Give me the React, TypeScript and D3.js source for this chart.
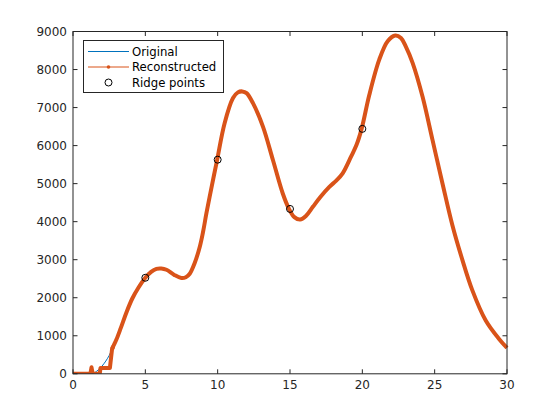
import React from "react";
import * as d3 from "d3";

const xTicks = [0, 5, 10, 15, 20, 25, 30];
const yTicks = [0, 1000, 2000, 3000, 4000, 5000, 6000, 7000, 8000, 9000];

const reconX = [0, 1.2, 1.28, 1.36, 1.85, 1.9, 2.5, 2.55, 2.7, 2.78, 3.0, 3.3, 3.7, 4.1, 4.5, 5.0, 5.4, 5.77, 6.1, 6.46, 7.0, 7.49, 7.8, 8.07, 8.4, 8.76, 9.0, 9.22, 9.6, 9.96, 10.48, 11.06, 11.4, 11.7, 12.0, 12.44, 13.13, 13.82, 14.5, 14.92, 15.3, 15.7, 16.1, 16.58, 17.1, 17.72, 18.2, 18.64, 19.22, 19.6, 19.95, 20.48, 21.17, 21.75, 22.28, 22.67, 23.0, 23.48, 24.16, 24.85, 25.54, 26.23, 26.92, 27.6, 28.53, 29.45, 30];
const reconY = [0, 0, 170, 0, 0, 150, 150, 150, 650, 720, 900, 1200, 1620, 1980, 2250, 2525, 2680, 2760, 2770, 2735, 2600, 2520, 2540, 2630, 2900, 3335, 3750, 4215, 4950, 5620, 6590, 7250, 7400, 7425, 7380, 7115, 6500, 5620, 4740, 4345, 4120, 4055, 4150, 4390, 4650, 4915, 5080, 5270, 5710, 6020, 6440, 7330, 8260, 8745, 8895, 8830, 8610, 8170, 7290, 6150, 5005, 3900, 2990, 2200, 1400, 915, 680];

const origStartX = [0, 1.3, 1.5, 2.0, 2.5];
const origStartY = [0, 0, 30, 200, 480];

const ridgeX = [5, 10, 15, 20];
const ridgeY = [2525, 5630, 4335, 6440];

const legendLabels = ["Original", "Reconstructed", "Ridge points"];

const W = 560, H = 420;
const L = 73, R = 507, T = 31.5, B = 373.8;
const AX = "#262626";
const BLUE = "#0072BD";
const ORANGE = "#D95319";
const FONT = "DejaVu Sans, sans-serif";

export default function App() {
  const x = d3.scaleLinear().domain([0, 30]).range([L, R]);
  const y = d3.scaleLinear().domain([0, 9000]).range([B, T]);

  const recon: [number, number][] = reconX.map((v, i) => [v, reconY[i]]);
  const reconLow = recon.filter((p) => p[0] <= 2.78);
  const reconHigh = recon.filter((p) => p[0] >= 2.7);
  const orig: [number, number][] = [
    ...origStartX.map((v, i) => [v, origStartY[i]] as [number, number]),
    ...recon.filter((p) => p[0] >= 2.78),
  ];

  const smooth = d3
    .line<[number, number]>()
    .x((d) => x(d[0]))
    .y((d) => y(d[1]))
    .curve(d3.curveCatmullRom.alpha(0.5));
  const linear = d3
    .line<[number, number]>()
    .x((d) => x(d[0]))
    .y((d) => y(d[1]));

  const tickLen = 4.5;

  return (
    <svg
      width={W}
      height={H}
      style={{ position: "absolute", left: 0, top: 0, background: "#fff" }}
      fontFamily={FONT}
    >
      <rect x={0} y={0} width={W} height={H} fill="#fff" />
      <defs>
        <clipPath id="clip">
          <rect x={L} y={T - 3} width={R - L + 3} height={B - T + 3} />
        </clipPath>
      </defs>
      <g clipPath="url(#clip)">
        <path d={smooth(orig) || ""} fill="none" stroke={BLUE} strokeWidth={1} />
        <path d={linear(reconLow) || ""} fill="none" stroke={ORANGE} strokeWidth={4} strokeLinejoin="round" />
        <path d={smooth(reconHigh) || ""} fill="none" stroke={ORANGE} strokeWidth={4} strokeLinejoin="round" />
      </g>
      {ridgeX.map((v, i) => (
        <circle key={i} cx={x(v)} cy={y(ridgeY[i])} r={3.5} fill="none" stroke="#000" strokeWidth={1} />
      ))}
      <rect x={L} y={T} width={R - L} height={B - T} fill="none" stroke={AX} strokeWidth={1} />
      {xTicks.map((t) => (
        <g key={"x" + t}>
          <line x1={x(t)} x2={x(t)} y1={B} y2={B - tickLen} stroke={AX} />
          <line x1={x(t)} x2={x(t)} y1={T} y2={T + tickLen} stroke={AX} />
          <text x={x(t)} y={B + 6} dy="0.76em" textAnchor="middle" fontSize={12} fill={AX}>
            {t}
          </text>
        </g>
      ))}
      {yTicks.map((t) => (
        <g key={"y" + t}>
          <line x1={L} x2={L + tickLen} y1={y(t)} y2={y(t)} stroke={AX} />
          <line x1={R} x2={R - tickLen} y1={y(t)} y2={y(t)} stroke={AX} />
          <text x={L - 6} y={y(t)} dy="0.36em" textAnchor="end" fontSize={12} fill={AX}>
            {t}
          </text>
        </g>
      ))}
      <g>
        <rect x={83.5} y={40.5} width={140} height={52} fill="#fff" stroke={AX} strokeWidth={1} />
        <line x1={88} x2={129} y1={51.5} y2={51.5} stroke={BLUE} strokeWidth={1} />
        <line x1={88} x2={129} y1={67} y2={67} stroke={ORANGE} strokeWidth={1} />
        <circle cx={108.5} cy={67} r={1.8} fill={ORANGE} />
        <circle cx={108.5} cy={82.5} r={3.5} fill="none" stroke="#000" strokeWidth={1} />
        {legendLabels.map((s, i) => (
          <text key={s} x={132} y={[51.5, 67, 82.5][i]} dy="0.36em" fontSize={11.7} fill="#000">
            {s}
          </text>
        ))}
      </g>
    </svg>
  );
}
